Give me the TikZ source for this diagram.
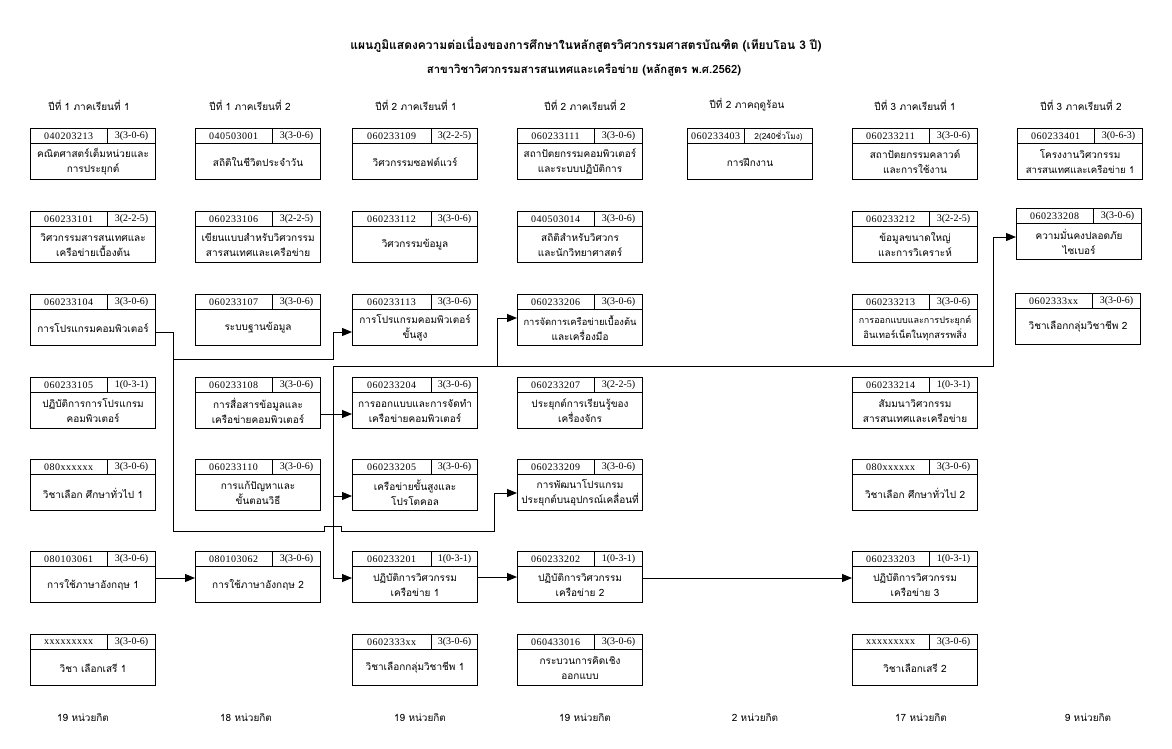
\documentclass[tikz,border=0pt]{standalone}
\usepackage{fontspec}
\setmainfont{Liberation Serif}
\newfontfamily\codefont[LetterSpace=5]{Liberation Serif}
\newfontfamily\thai[Script=Thai]{Loma}
\usetikzlibrary{arrows.meta,calc}

\tikzset{
  x=1pt, y=-1pt,
  cbox/.style={draw, line width=1.1pt, minimum width=125pt, minimum height=51pt, anchor=north west, inner sep=0pt},
  hline/.style={line width=0.8pt},
  codetext/.style={font=\codefont\fontsize{10}{11}\selectfont, inner sep=0pt},
  credtext/.style={font=\fontsize{10}{11}\selectfont, inner sep=0pt},
  bodytext/.style={font=\thai\fontsize{10}{15}\selectfont, align=center, inner sep=0pt},
  headtext/.style={font=\thai\fontsize{10}{12}\selectfont, inner sep=0pt},
  titletext/.style={font=\thai\bfseries\fontsize{12}{14}\selectfont, inner sep=0pt},
  conn/.style={line width=1pt},
  arr/.style={conn, -{Triangle[length=10pt,width=8pt]}},
}

% #1 code-cell width (optional), #2 name, #3 x, #4 y, #5 code, #6 credit, #7 body
\newcommand{\course}[7][77]{%
  \node[cbox] (#2) at (#3,#4) {};
  \draw[hline] ([yshift=-15pt]#2.north west) -- ([yshift=-15pt]#2.north east);
  \draw[hline] ([xshift=#1pt]#2.north west) -- ([xshift=#1pt,yshift=-15pt]#2.north west);
  \node[codetext] (#2-code) at ([xshift=#1*0.5pt,yshift=-8pt]#2.north west) {#5};
  \node[credtext] (#2-cr) at ($([xshift=#1pt,yshift=-8pt]#2.north west)!0.5!([yshift=-8pt]#2.north east)$) {#6};
  \node[bodytext] (#2-body) at ([yshift=-34pt]#2.north) {#7};
}

\begin{document}
\begin{tikzpicture}
\useasboundingbox[fill=white] (0,0) rectangle (1172,748);

% title
\node[titletext] (title1) at (586,45) {แผนภูมิแสดงความต่อเนื่องของการศึกษาในหลักสูตรวิศวกรรมศาสตรบัณฑิต (เทียบโอน 3 ปี)};
\node[titletext, font=\thai\bfseries\fontsize{11.3}{14}\selectfont] (title2) at (584,70) {สาขาวิชาวิศวกรรมสารสนเทศและเครือข่าย (หลักสูตร พ.ศ.2562)};

% column headers
\node[headtext] (h1) at (89,105) {ปีที่ 1 ภาคเรียนที่ 1};
\node[headtext] (h2) at (250,105) {ปีที่ 1 ภาคเรียนที่ 2};
\node[headtext] (h3) at (416,105) {ปีที่ 2 ภาคเรียนที่ 1};
\node[headtext] (h4) at (585,105) {ปีที่ 2 ภาคเรียนที่ 2};
\node[headtext] (h5) at (747,105) {ปีที่ 2 ภาคฤดูร้อน};
\node[headtext] (h6) at (915,105) {ปีที่ 3 ภาคเรียนที่ 1};
\node[headtext] (h7) at (1081,105) {ปีที่ 3 ภาคเรียนที่ 2};

% column 1
\course{c1r1}{30}{128}{040203213}{3(3-0-6)}{คณิตศาสตร์เต็มหน่วยและ\\การประยุกต์}
\course{c1r2}{30}{211}{060233101}{3(2-2-5)}{วิศวกรรมสารสนเทศและ\\เครือข่ายเบื้องต้น}
\course{c1r3}{30}{294}{060233104}{3(3-0-6)}{การโปรแกรมคอมพิวเตอร์}
\course{c1r4}{30}{377}{060233105}{1(0-3-1)}{ปฏิบัติการการโปรแกรม\\คอมพิวเตอร์}
\course{c1r5}{30}{459}{080xxxxxx}{3(3-0-6)}{วิชาเลือก ศึกษาทั่วไป 1}
\course{c1r6}{30}{551}{080103061}{3(3-0-6)}{การใช้ภาษาอังกฤษ 1}
\course{c1r7}{30}{634}{xxxxxxxxx}{3(3-0-6)}{วิชา เลือกเสรี 1}

% column 2
\course{c2r1}{195}{128}{040503001}{3(3-0-6)}{สถิติในชีวิตประจำวัน}
\course{c2r2}{195}{211}{060233106}{3(2-2-5)}{เขียนแบบสำหรับวิศวกรรม\\สารสนเทศและเครือข่าย}
\course{c2r3}{195}{294}{060233107}{3(3-0-6)}{ระบบฐานข้อมูล}
\course{c2r4}{195}{377}{060233108}{3(3-0-6)}{การสื่อสารข้อมูลและ\\เครือข่ายคอมพิวเตอร์}
\course{c2r5}{195}{459}{060233110}{3(3-0-6)}{การแก้ปัญหาและ\\ขั้นตอนวิธี}
\course{c2r6}{195}{551}{080103062}{3(3-0-6)}{การใช้ภาษาอังกฤษ 2}

% column 3
\course[79]{c3r1}{352}{128}{060233109}{3(2-2-5)}{วิศวกรรมซอฟต์แวร์}
\course[79]{c3r2}{352}{211}{060233112}{3(3-0-6)}{วิศวกรรมข้อมูล}
\course[79]{c3r3}{352}{294}{060233113}{3(3-0-6)}{การโปรแกรมคอมพิวเตอร์\\ขั้นสูง}
\course[79]{c3r4}{352}{377}{060233204}{3(3-0-6)}{การออกแบบและการจัดทำ\\เครือข่ายคอมพิวเตอร์}
\course[79]{c3r5}{352}{459}{060233205}{3(3-0-6)}{เครือข่ายขั้นสูงและ\\โปรโตคอล}
\course[79]{c3r6}{352}{551}{060233201}{1(0-3-1)}{ปฏิบัติการวิศวกรรม\\เครือข่าย 1}
\course[79]{c3r7}{352}{634}{0602333xx}{3(3-0-6)}{วิชาเลือกกลุ่มวิชาชีพ 1}

% column 4
\course{c4r1}{517}{128}{060233111}{3(3-0-6)}{สถาปัตยกรรมคอมพิวเตอร์\\และระบบปฏิบัติการ}
\course{c4r2}{517}{211}{040503014}{3(3-0-6)}{สถิติสำหรับวิศวกร\\และนักวิทยาศาสตร์}
\course{c4r3}{517}{294}{060233206}{3(3-0-6)}{{\fontsize{9.4}{15}\selectfont การจัดการเครือข่ายเบื้องต้น}\\และเครื่องมือ}
\course{c4r4}{517}{377}{060233207}{3(2-2-5)}{ประยุกต์การเรียนรู้ของ\\เครื่องจักร}
\course{c4r5}{517}{459}{060233209}{3(3-0-6)}{การพัฒนาโปรแกรม\\ประยุกต์บนอุปกรณ์เคลื่อนที่}
\course{c4r6}{517}{551}{060233202}{1(0-3-1)}{ปฏิบัติการวิศวกรรม\\เครือข่าย 2}
\course{c4r7}{517}{634}{060433016}{3(3-0-6)}{กระบวนการคิดเชิง\\ออกแบบ}

% column 5
\course[57]{c5r1}{687}{128}{060233403}{{\thai\fontsize{8.3}{10}\selectfont 2(240ชั่วโมง)}}{การฝึกงาน}

% column 6
\course{c6r1}{852}{128}{060233211}{3(3-0-6)}{สถาปัตยกรรมคลาวด์\\และการใช้งาน}
\course{c6r2}{852}{211}{060233212}{3(2-2-5)}{ข้อมูลขนาดใหญ่\\และการวิเคราะห์}
\course{c6r3}{852}{294}{060233213}{3(3-0-6)}{{\fontsize{9}{15}\selectfont การออกแบบและการประยุกต์}\\{\fontsize{9.4}{15}\selectfont อินเทอร์เน็ตในทุกสรรพสิ่ง}}
\course{c6r4}{852}{377}{060233214}{1(0-3-1)}{สัมมนาวิศวกรรม\\สารสนเทศและเครือข่าย}
\course{c6r5}{852}{459}{080xxxxxx}{3(3-0-6)}{วิชาเลือก ศึกษาทั่วไป 2}
\course{c6r6}{852}{551}{060233203}{1(0-3-1)}{ปฏิบัติการวิศวกรรม\\เครือข่าย 3}
\course{c6r7}{852}{634}{xxxxxxxxx}{3(3-0-6)}{วิชาเลือกเสรี 2}

% column 7
\course{c7r1}{1017}{128}{060233401}{3(0-6-3)}{โครงงานวิศวกรรม\\{\fontsize{9.6}{15}\selectfont สารสนเทศและเครือข่าย 1}}
\course{c7r2}{1016}{208}{060233208}{3(3-0-6)}{ความมั่นคงปลอดภัย\\ไซเบอร์}
\course{c7r3}{1015}{293}{0602333xx}{3(3-0-6)}{วิชาเลือกกลุ่มวิชาชีพ 2}

% credits
\node[headtext] (f1) at (83,717) {19 หน่วยกิต};
\node[headtext] (f2) at (246,717) {18 หน่วยกิต};
\node[headtext] (f3) at (420,717) {19 หน่วยกิต};
\node[headtext] (f4) at (585,717) {19 หน่วยกิต};
\node[headtext] (f5) at (755,717) {2 หน่วยกิต};
\node[headtext] (f6) at (921,717) {17 หน่วยกิต};
\node[headtext] (f7) at (1088,717) {9 หน่วยกิต};

% programming connectors
\coordinate (a1) at (173,332);
\coordinate (a2) at (173,359);
\coordinate (a3) at (333,359);
\coordinate (a4) at (333,332);
\draw[arr] ([yshift=-38pt]c1r3.north east) -- (a1) -- (a2) -- (a3) -- (a4) -- ([yshift=-38pt]c3r3.north west);
\coordinate (b1) at (173,531);
\coordinate (b2) at (324,531);
\coordinate (b3) at (324,526);
\coordinate (b4) at (341,526);
\coordinate (b5) at (341,531);
\coordinate (b6) at (494,531);
\coordinate (b7) at (494,493);
\draw[arr] (a2) -- (b1) -- (b2) -- (b3) -- (b4) -- (b5) -- (b6) -- (b7) -- ([yshift=-34pt]c4r5.north west);

% networking connectors
\draw[arr] ([yshift=-37pt]c2r4.north east) -- ([yshift=-37pt]c3r4.north west);
\coordinate (n0) at (333,366);
\coordinate (n1) at (497,366);
\coordinate (n2) at (993,366);
\draw[arr] (n0) |- ([yshift=-37pt]c3r5.north west);
\draw[arr] (n0) |- ([yshift=-27pt]c3r6.north west);
\draw[arr] (n0) -- (n1) |- ([yshift=-24pt]c4r3.north west);
\draw[arr] (n1) -- (n2) |- ([yshift=-29pt]c7r2.north west);

% row 6 chains
\draw[arr] ([yshift=-27pt]c1r6.north east) -- ([yshift=-27pt]c2r6.north west);
\draw[arr] ([yshift=-26pt]c3r6.north east) -- ([yshift=-26pt]c4r6.north west);
\draw[arr] ([yshift=-27pt]c4r6.north east) -- ([yshift=-27pt]c6r6.north west);
\end{tikzpicture}
\end{document}
